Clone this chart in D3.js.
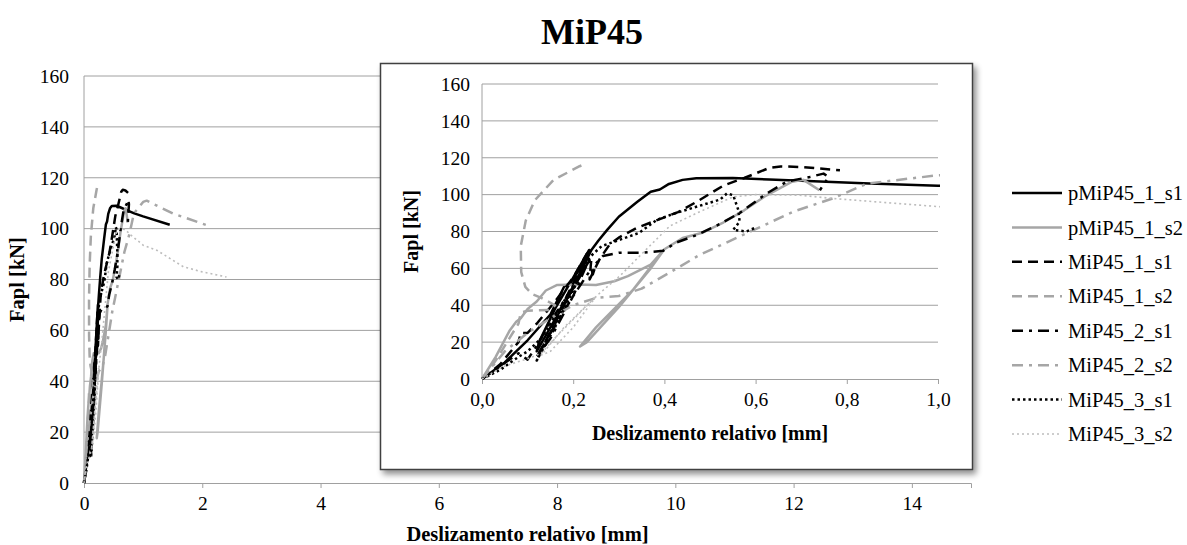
<!DOCTYPE html>
<html>
<head>
<meta charset="utf-8">
<script src="https://cdn.jsdelivr.net/npm/d3@7.9.0/dist/d3.min.js"></script>
<style>
  body { margin: 0; background: #fff; }
  svg, svg text { font-family: "Liberation Serif", "Times New Roman", serif; }
</style>
</head>
<body>
<svg id="chart" width="1187" height="545"></svg>
<script>
// slip [mm], load [kN]
const pMiP45_1_s1 = [[0,0],[0.05,9],[0.1,21],[0.15,35],[0.17,45],[0.18,50],[0.195,52.5],[0.215,60],[0.235,70],
  [0.2,55],[0.16,38],[0.125,20],[0.12,15],[0.15,28],[0.19,45],[0.22,60],[0.24,70],[0.255,75],[0.275,81],[0.3,88],
  [0.34,96],[0.37,101.6],[0.39,102.8],[0.41,105.8],[0.44,108],[0.47,108.9],[0.55,109],[0.63,108.2],[0.7,107.5],
  [0.85,106],[1.0,104.8],[1.45,101.5]];
const pMiP45_1_s2 = [[0,0],[0.03,12],[0.06,26],[0.075,31],[0.085,33],[0.1,38],[0.12,42],[0.14,48],[0.165,51],
  [0.21,51.2],[0.25,51],[0.29,53],[0.32,55.8],[0.37,62],[0.4,70.4],[0.33,48],[0.25,28],[0.215,17.6],[0.23,20],
  [0.3,39],[0.37,60],[0.4,70.4],[0.44,76.5],[0.485,79.5],[0.53,85],[0.575,91.5],[0.62,99],[0.68,107],[0.705,108],
  [0.74,102.4]];
const MiP45_1_s1 = [[0,0],[0.04,8],[0.08,20],[0.085,25],[0.1,25],[0.12,30],[0.16,42],[0.2,55],[0.23,68],[0.2,52],
  [0.16,32],[0.13,15],[0.12,12],[0.15,25],[0.19,45],[0.23,62],[0.24,66],[0.236,54],[0.258,65],[0.28,73],[0.302,77],
  [0.34,82],[0.38,85.8],[0.43,90.5],[0.47,96],[0.53,105],[0.575,109],[0.63,114.5],[0.655,115.3],[0.7,115],
  [0.785,113.2]];
const MiP45_1_s2 = [[0,0],[0.03,10],[0.06,22],[0.08,30],[0.085,36],[0.1,37],[0.15,37.5],[0.16,40],[0.13,44],
  [0.11,46],[0.095,50],[0.086,58],[0.085,72],[0.096,86],[0.116,97],[0.157,108],[0.214,115.4],[0.22,116]];
const MiP45_2_s1 = [[0,0],[0.04,7],[0.08,14],[0.1,10.5],[0.12,18],[0.16,35],[0.2,50],[0.235,65],[0.2,45],
  [0.15,22],[0.12,12],[0.15,25],[0.2,45],[0.24,60],[0.243,56.7],[0.251,63],[0.265,66.7],[0.3,68.5],[0.353,68.5],
  [0.397,69.5],[0.426,74],[0.47,78],[0.521,84],[0.565,90],[0.624,100.6],[0.668,107],[0.719,109.6],[0.749,111.4],
  [0.76,109.6],[0.741,102.4]];
const MiP45_2_s2 = [[0,0],[0.05,15],[0.1,25],[0.15,33],[0.2,40],[0.25,44],[0.3,45],[0.35,49],[0.41,57.5],
  [0.478,67.4],[0.58,79],[0.683,90.8],[0.77,98],[0.844,106],[1.0,110.5],[1.06,111],[1.5,106],[2.07,101.4]];
const MiP45_3_s1 = [[0,0],[0.04,5],[0.08,12],[0.1,15],[0.13,22],[0.17,38],[0.21,55],[0.23,65],[0.2,48],
  [0.16,28],[0.12,10],[0.14,20],[0.18,40],[0.22,58],[0.23,64.7],[0.262,72],[0.303,75.6],[0.344,79.2],[0.384,86.4],
  [0.425,90],[0.474,93.7],[0.522,97.3],[0.537,100.6],[0.551,99.7],[0.562,91.7],[0.565,85.4],[0.551,80.9],
  [0.58,80],[0.602,82.3]];
const MiP45_3_s2 = [[0,0],[0.046,6.7],[0.1,11],[0.13,14],[0.163,23],[0.214,35.8],[0.251,45],[0.2,28],[0.15,15],
  [0.13,13],[0.18,28],[0.251,45],[0.302,55.8],[0.353,68.5],[0.412,83],[0.478,90.8],[0.551,98.8],[0.6,100],
  [0.697,99.7],[0.77,97.9],[1.0,93.5],[1.23,91.5],[1.68,85],[2.0,83],[2.41,81]];

const seriesNames = ["pMiP45_1_s1","pMiP45_1_s2","MiP45_1_s1","MiP45_1_s2","MiP45_2_s1","MiP45_2_s2","MiP45_3_s1","MiP45_3_s2"];
const seriesData = [pMiP45_1_s1, pMiP45_1_s2, MiP45_1_s1, MiP45_1_s2, MiP45_2_s1, MiP45_2_s2, MiP45_3_s1, MiP45_3_s2];

const yTicks = [0,20,40,60,80,100,120,140,160];
const mainXTicks = [0,2,4,6,8,10,12,14];
const insetXTicks = [0,0.2,0.4,0.6,0.8,1.0];

const title = "MiP45";
const xTitle = "Deslizamento relativo [mm]";
const yTitle = "Fapl [kN]";

const FONT = "Liberation Serif, Times New Roman, serif";

// line styles, in series order
const BLACK = "#000", GREY = "#a6a6a6";
const styles = [
  { color: BLACK, width: 2.5, dash: null },
  { color: GREY, width: 2.5, dash: null },
  { color: BLACK, width: 2.5, dash: "10,6" },
  { color: GREY, width: 2.5, dash: "10,6" },
  { color: BLACK, width: 2.5, dash: "11,6,3,6" },
  { color: GREY, width: 2.5, dash: "11,6,3,6" },
  { color: BLACK, width: 2.5, dash: "2.5,3" },
  { color: "#bdbdbd", width: 1.6, dash: "2,3" },
];

const svg = d3.select("#chart").attr("font-family", FONT);
const defs = svg.append("defs");

svg.append("text")
  .attr("x", 592).attr("y", 44)
  .attr("text-anchor", "middle")
  .attr("font-family", FONT)
  .attr("font-size", 36).attr("font-weight", "bold")
  .text(title);

function drawPlot(g, x, y, xTicks, fmt, opts) {
  const [x0, x1] = x.range();
  const [yb, yt] = y.range();

  // gridlines
  g.append("g").selectAll("line")
    .data(yTicks.filter(d => d > 0))
    .join("line")
    .attr("x1", x0).attr("x2", x1)
    .attr("y1", d => y(d)).attr("y2", d => y(d))
    .attr("stroke", "#a0a0a0").attr("stroke-width", 1);

  // y axis (line only) + labels
  g.append("line")
    .attr("x1", x0).attr("x2", x0).attr("y1", yb).attr("y2", yt)
    .attr("stroke", "#a0a0a0");
  g.append("g").selectAll("text")
    .data(yTicks)
    .join("text")
    .attr("x", x0 - opts.yLabelGap)
    .attr("y", d => y(d))
    .attr("dy", "0.35em")
    .attr("text-anchor", "end")
    .attr("font-family", FONT)
    .attr("font-size", opts.tickSize)
    .text(d => d);

  // x axis
  const xAxis = g.append("g")
    .attr("transform", `translate(0,${yb})`)
    .call(d3.axisBottom(x).tickValues(xTicks).tickSizeOuter(0).tickSize(5).tickPadding(8).tickFormat(fmt));
  xAxis.attr("font-family", FONT);
  xAxis.select(".domain").attr("stroke", "#a0a0a0");
  xAxis.selectAll(".tick line").attr("stroke", "#a0a0a0");
  xAxis.selectAll(".tick text")
    .attr("font-family", FONT)
    .attr("font-size", opts.tickSize)
    .attr("fill", "#000");

  // axis titles
  g.append("text")
    .attr("x", (x0 + x1) / 2 + opts.xTitleDx).attr("y", yb + opts.xTitleDy)
    .attr("text-anchor", "middle")
    .attr("font-family", FONT)
    .attr("font-size", opts.titleSize).attr("font-weight", "bold")
    .text(xTitle);
  g.append("text")
    .attr("transform", `translate(${opts.yTitleX},${(yb + yt) / 2}) rotate(-90)`)
    .attr("text-anchor", "middle")
    .attr("font-family", FONT)
    .attr("font-size", opts.titleSize).attr("font-weight", "bold")
    .text(yTitle);

  // series
  const clipId = opts.clipId;
  defs.append("clipPath").attr("id", clipId)
    .append("rect").attr("x", x0 - 2).attr("y", yt - 2)
    .attr("width", x1 - x0 + 4).attr("height", yb - yt + 4);

  const line = d3.line().x(d => x(d[0])).y(d => y(d[1]));
  g.append("g").attr("clip-path", `url(#${clipId})`)
    .selectAll("path")
    .data(seriesData)
    .join("path")
    .attr("d", d => line(d))
    .attr("fill", "none")
    .attr("stroke", (d, i) => styles[i].color)
    .attr("stroke-width", (d, i) => styles[i].width)
    .attr("stroke-dasharray", (d, i) => styles[i].dash)
    .attr("stroke-linejoin", "round");
}

// main chart
const xMain = d3.scaleLinear().domain([0, 15]).range([84, 971]);
const yMain = d3.scaleLinear().domain([0, 160]).range([483, 76]);
drawPlot(svg.append("g"), xMain, yMain, mainXTicks, d3.format("d"), {
  tickSize: 19.5, titleSize: 20.5, yLabelGap: 15, xTitleDx: 0, xTitleDy: 58, yTitleX: 24, clipId: "clipMain"
});

// inset
const shadow = defs.append("filter").attr("id", "shadow")
  .attr("x", "-5%").attr("y", "-5%").attr("width", "115%").attr("height", "115%");
shadow.append("feGaussianBlur").attr("in", "SourceAlpha").attr("stdDeviation", 3);
shadow.append("feOffset").attr("dx", 3).attr("dy", 4).attr("result", "blur");
shadow.append("feComponentTransfer").append("feFuncA").attr("type", "linear").attr("slope", 0.45);
const merge = shadow.append("feMerge");
merge.append("feMergeNode");
merge.append("feMergeNode").attr("in", "SourceGraphic");

svg.append("rect")
  .attr("x", 380.5).attr("y", 63.5).attr("width", 592).attr("height", 406)
  .attr("fill", "#fff").attr("stroke", "#404040").attr("stroke-width", 1.5)
  .attr("filter", "url(#shadow)");

const xIn = d3.scaleLinear().domain([0, 1]).range([482, 938]);
const yIn = d3.scaleLinear().domain([0, 160]).range([379, 84]);
drawPlot(svg.append("g"), xIn, yIn, insetXTicks, d => d3.format(".1f")(d).replace(".", ","), {
  tickSize: 19.5, titleSize: 20, yLabelGap: 12, xTitleDx: 0, xTitleDy: 61, yTitleX: 418, clipId: "clipInset"
});

// legend
const legend = svg.append("g");
const ly = d3.scaleLinear().domain([0, 7]).range([193, 434]);
seriesNames.forEach((name, i) => {
  const s = styles[i];
  legend.append("line")
    .attr("x1", 1012).attr("x2", 1062)
    .attr("y1", ly(i)).attr("y2", ly(i))
    .attr("stroke", s.color).attr("stroke-width", s.width)
    .attr("stroke-dasharray", s.dash);
  legend.append("text")
    .attr("x", 1068).attr("y", ly(i)).attr("dy", "0.35em")
    .attr("font-family", FONT)
    .attr("font-size", 20.5)
    .text(name);
});
</script>
</body>
</html>
